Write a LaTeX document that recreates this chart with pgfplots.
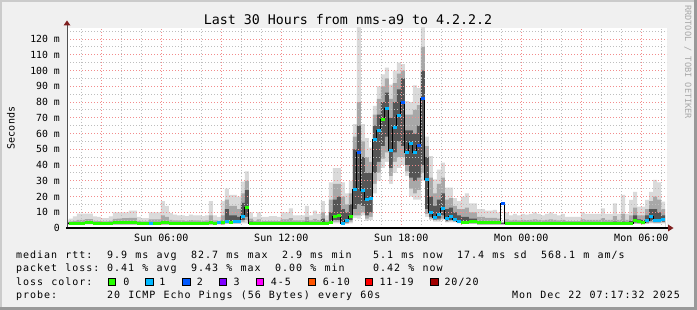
\documentclass[border=0pt]{standalone}
\usepackage{fontspec}
\setmainfont{DejaVu Sans Mono}
\newfontfamily\legfont[LetterSpace=9.8,WordSpace=1.163]{DejaVu Sans Mono}
\usepackage{pgfplots}
\pgfplotsset{compat=1.18}
\usepackage{pgfplotstable}
\definecolor{bgcol}{HTML}{F0F0F0}
\definecolor{shadeA}{HTML}{CBCBCB}
\definecolor{shadeB}{HTML}{999999}
\definecolor{mgrid}{HTML}{F28C8C}
\definecolor{mingrid}{HTML}{BEBEBE}
\definecolor{arrowred}{HTML}{7F1F1F}
\definecolor{yaxcol}{HTML}{505050}
\definecolor{smokeL}{HTML}{DADADA}
\definecolor{smokeM}{HTML}{A8A8A8}
\definecolor{smokeD}{HTML}{555555}
\definecolor{lossA}{HTML}{26FF00}
\definecolor{lossB}{HTML}{00B8FF}
\definecolor{lossC}{HTML}{0059FF}
\definecolor{lossD}{HTML}{7E00FF}
\definecolor{lossE}{HTML}{FF00FF}
\definecolor{lossF}{HTML}{FF5500}
\definecolor{lossG}{HTML}{FF0000}
\definecolor{lossH}{HTML}{A10000}
\definecolor{rrdtxt}{HTML}{A8A8A8}

\pgfplotstableread{
x lo mlo dlo dhi mhi hi med loss
1.183 2.0 2.2 2.5 3.6 3.8 5.3 3.0 g
1.383 2.0 2.2 2.5 3.6 4.2 6.0 3.0 g
1.583 2.0 2.2 2.5 3.6 4.5 7.4 3.0 g
1.783 2.0 2.2 2.5 3.8 5.2 9.1 3.0 g
1.983 2.0 2.2 2.5 3.8 5.2 9.1 3.0 g
2.183 2.2 2.4 2.8 4.2 5.6 9.1 3.6 g
2.383 2.2 2.4 2.8 4.2 5.6 9.1 3.6 g
2.583 2.0 2.2 2.5 3.6 4.5 7.4 3.0 g
2.783 2.0 2.2 2.5 3.6 4.4 7.0 3.0 g
2.983 2.0 2.2 2.5 3.6 4.2 6.3 3.0 g
3.183 2.0 2.2 2.5 3.6 4.2 6.3 3.0 g
3.383 2.0 2.2 2.5 3.6 4.5 7.4 3.0 g
3.583 2.0 2.2 2.5 4.0 5.8 10.0 3.2 g
3.783 2.0 2.2 2.5 4.0 6.0 10.0 3.2 g
3.983 2.0 2.2 2.5 4.2 6.2 10.0 3.4 g
4.183 2.0 2.2 2.5 4.2 6.2 10.0 3.4 g
4.383 2.0 2.2 2.5 4.2 6.4 11.0 3.4 g
4.583 2.0 2.2 2.5 4.2 6.4 11.0 3.4 g
4.783 2.0 2.2 2.5 3.6 4.5 7.0 3.0 g
4.983 2.0 2.2 2.5 3.6 4.2 6.3 3.0 g
5.183 2.0 2.2 2.5 3.6 4.2 6.3 3.0 g
5.383 1.8 2.0 2.3 3.4 5.5 10.0 2.9 c
5.583 2.0 2.2 2.5 3.6 5.5 10.0 3.0 g
5.783 2.0 2.2 2.5 3.8 5.5 10.0 3.0 g
5.983 2.0 2.2 2.5 4.5 8.0 17.0 3.2 g
6.183 2.0 2.2 2.5 4.2 7.0 14.0 3.2 g
6.383 2.0 2.2 2.5 3.6 5.2 9.5 3.0 g
6.583 2.0 2.2 2.5 3.6 4.8 8.5 3.0 g
6.783 2.0 2.2 2.5 3.6 4.8 8.0 3.0 g
6.983 2.0 2.2 2.5 3.6 4.8 8.0 3.0 g
7.183 2.0 2.2 2.5 3.6 4.6 7.5 3.0 g
7.383 2.0 2.2 2.5 3.6 5.0 8.5 3.0 g
7.583 2.0 2.2 2.5 3.6 4.8 8.0 3.0 g
7.783 2.0 2.2 2.5 3.6 4.8 8.0 3.0 g
7.983 2.0 2.2 2.5 3.6 4.6 7.5 3.0 g
8.183 2.0 2.2 2.5 3.6 4.8 8.0 3.0 g
8.383 2.0 2.2 2.5 4.0 8.0 17.0 3.2 g
8.583 2.0 2.2 2.5 3.6 4.8 8.0 3.0 g
8.783 2.2 2.4 2.8 3.8 4.6 7.0 3.4 c
8.983 2.0 2.2 2.5 4.5 8.0 17.0 3.2 g
9.183 2.5 3.0 3.5 12.0 18.0 25.0 4.0 c
9.383 2.5 3.0 3.3 8.0 14.0 21.0 3.6 g
9.583 2.5 3.0 3.3 8.0 14.0 21.0 4.0 c
9.783 2.5 3.0 3.3 7.0 12.0 20.0 4.0 c
9.983 3.0 4.0 5.0 16.0 22.0 29.4 7.6 c
10.183 3.0 5.0 7.0 24.0 30.0 36.0 12.7 g
10.383 2.0 2.2 2.5 4.0 6.0 10.0 3.0 g
10.583 2.0 2.2 2.5 3.6 4.4 7.0 3.0 g
10.783 2.0 2.2 2.5 3.8 5.5 10.0 3.0 g
10.983 2.0 2.2 2.5 3.6 4.4 7.0 3.0 g
11.183 2.0 2.2 2.5 3.6 4.4 7.0 3.0 g
11.383 2.0 2.2 2.5 3.6 4.6 7.5 3.0 g
11.583 2.0 2.2 2.5 3.6 4.6 7.5 3.0 g
11.783 2.0 2.2 2.5 3.6 4.4 7.0 3.0 g
11.983 2.0 2.2 2.5 3.6 5.5 10.0 3.0 g
12.183 2.0 2.2 2.5 3.6 5.5 10.0 3.0 g
12.383 2.0 2.2 2.5 3.8 6.2 12.5 3.0 g
12.583 2.0 2.2 2.5 3.6 4.8 8.0 3.0 g
12.783 2.0 2.2 2.5 3.6 4.8 8.0 3.0 g
12.983 2.0 2.2 2.5 3.6 4.8 8.0 3.0 g
13.183 2.0 2.2 2.5 4.0 7.0 14.0 3.0 g
13.383 2.0 2.2 2.5 3.6 4.8 8.0 3.0 g
13.583 2.0 2.2 2.5 3.8 5.8 11.0 3.0 g
13.783 2.0 2.2 2.5 3.6 5.0 9.0 3.0 g
13.983 2.0 2.3 2.5 6.0 10.0 17.0 3.0 g
14.183 2.0 2.2 2.5 3.6 4.8 8.0 3.0 g
14.383 2.5 3.0 3.2 10.0 18.0 29.0 3.4 g
14.583 3.0 4.0 5.0 18.0 28.0 38.0 7.6 g
14.783 3.0 4.0 5.0 20.0 28.0 38.0 8.0 g
14.983 2.0 2.5 3.0 12.0 20.0 29.0 3.0 c
15.183 2.5 3.0 3.5 10.0 15.0 22.0 5.0 c
15.383 3.0 4.0 5.0 15.0 22.0 30.0 7.6 g
15.583 6.5 8.0 12.0 50.0 58.0 66.0 24.5 c
15.783 6.0 8.0 15.0 65.0 80.0 130.0 47.8 b
15.983 8.0 10.0 14.0 45.0 55.0 66.0 24.0 c
16.183 4.5 6.0 8.0 35.0 45.0 57.0 17.8 c
16.383 5.0 7.0 10.0 35.0 42.0 51.0 18.6 c
16.583 22.0 28.0 35.0 65.0 72.0 77.5 56.0 c
16.783 30.0 35.0 42.0 72.0 82.0 90.0 61.6 c
16.983 38.0 44.0 52.0 80.0 90.0 97.6 68.6 g
17.183 42.0 48.0 58.0 86.0 95.0 101.8 75.8 c
17.383 28.0 33.0 38.0 70.0 82.0 91.0 49.5 c
17.583 35.0 42.0 48.0 80.0 92.0 100.0 64.0 c
17.783 38.0 45.0 55.0 88.0 98.0 105.0 71.7 c
17.983 40.0 45.0 52.0 95.0 100.0 104.0 79.6 b
18.183 33.0 36.0 40.0 62.0 72.0 80.6 48.0 c
18.383 20.0 25.0 32.0 62.0 72.0 80.0 53.5 c
18.583 18.0 22.0 30.0 60.0 75.0 90.5 48.0 c
18.783 18.0 24.0 32.0 65.0 78.0 89.0 52.7 b
18.983 30.0 35.0 40.0 100.0 115.0 130.0 82.0 b
19.183 7.0 9.0 12.0 45.0 52.0 58.0 30.9 c
19.383 5.0 6.0 7.0 20.0 32.0 45.7 9.7 c
19.583 4.0 5.0 5.5 14.0 22.0 30.9 6.6 c
19.783 4.0 5.0 6.0 18.0 28.0 37.0 8.7 c
19.983 5.0 6.0 8.0 22.0 32.0 41.5 12.3 c
20.183 3.5 4.0 4.5 12.0 18.0 25.6 6.0 c
20.383 3.5 4.5 5.0 13.0 19.0 25.6 7.0 c
20.583 3.5 4.0 4.5 10.0 14.0 19.0 5.7 c
20.783 3.0 3.2 3.5 8.0 12.0 17.0 4.0 c
20.983 2.5 2.8 3.0 7.0 12.0 20.0 3.4 g
21.183 2.5 2.8 3.0 7.0 13.0 22.0 3.4 g
21.383 2.5 2.8 3.2 6.0 10.0 15.7 4.0 g
21.583 2.5 2.8 3.2 6.0 10.0 15.7 4.0 g
21.783 2.0 2.2 2.5 4.5 7.0 12.0 3.2 g
21.983 2.0 2.2 2.5 4.5 7.0 12.0 3.2 g
22.183 2.0 2.2 2.5 4.2 6.5 11.0 3.2 g
22.383 2.0 2.2 2.5 4.2 6.5 11.0 3.2 g
22.583 2.0 2.2 2.5 4.2 6.5 11.5 3.2 g
22.783 2.0 2.2 2.5 4.2 6.0 10.0 3.2 g
22.983 2.0 2.2 2.5 3.2 3.6 4.0 15.7 b
23.183 2.0 2.2 2.5 3.6 5.5 10.0 3.0 g
23.383 2.0 2.2 2.5 3.6 4.8 8.0 3.0 g
23.583 2.0 2.2 2.5 3.6 5.1 9.0 3.0 g
23.783 2.0 2.2 2.5 3.6 4.8 8.0 3.0 g
23.983 2.0 2.2 2.5 3.6 5.1 9.0 3.0 g
24.183 2.0 2.2 2.5 3.6 5.0 8.5 3.0 g
24.383 2.0 2.2 2.5 3.6 5.1 9.0 3.0 g
24.583 2.0 2.2 2.5 3.6 5.5 10.0 3.0 g
24.783 2.0 2.2 2.5 3.6 5.1 9.0 3.0 g
24.983 2.0 2.2 2.5 3.6 4.8 8.0 3.0 g
25.183 2.0 2.2 2.5 3.6 5.1 9.0 3.0 g
25.383 2.0 2.2 2.5 3.6 5.5 10.0 3.0 g
25.583 2.0 2.2 2.5 3.6 5.1 9.0 3.0 g
25.783 2.0 2.2 2.5 3.6 4.8 8.0 3.0 g
25.983 2.0 2.2 2.5 3.6 5.1 9.0 3.0 g
26.183 2.0 2.2 2.5 3.6 4.4 7.0 3.0 g
26.383 2.0 2.2 2.5 3.6 4.4 7.0 3.0 g
26.583 2.0 2.2 2.5 3.6 4.4 7.0 3.0 g
26.783 2.0 2.2 2.5 3.6 4.4 7.0 3.0 g
26.983 2.0 2.2 2.5 3.6 5.5 10.0 3.0 g
27.183 2.0 2.2 2.5 3.6 5.1 9.0 3.0 g
27.383 2.0 2.2 2.5 3.6 5.1 9.0 3.0 g
27.583 2.0 2.2 2.5 3.6 5.1 9.0 3.0 g
27.783 2.0 2.2 2.5 3.6 5.1 9.0 3.0 g
27.983 2.0 2.2 2.5 3.8 6.3 12.5 3.0 g
28.183 2.0 2.2 2.5 3.6 5.1 9.0 3.0 g
28.383 2.0 2.2 2.5 3.6 5.1 9.0 3.0 g
28.583 2.0 2.2 2.5 4.0 7.5 15.7 3.0 g
28.783 2.0 2.2 2.5 3.6 5.1 9.0 3.0 g
28.983 1.8 2.0 2.2 4.0 9.0 21.0 2.6 g
29.183 2.0 2.2 2.5 3.6 5.1 9.0 3.0 g
29.383 2.0 2.2 2.5 4.5 8.0 17.8 3.0 g
29.583 2.5 3.0 3.5 8.0 13.0 23.0 4.7 g
29.783 2.5 2.8 3.2 5.5 8.0 13.6 4.0 g
29.983 2.2 2.5 2.8 5.0 8.0 13.6 3.5 g
30.183 2.5 3.0 3.5 8.0 12.0 17.8 5.0 c
30.383 3.0 3.5 4.5 12.0 17.0 23.0 7.6 c
30.583 2.8 3.2 3.8 12.0 20.0 30.5 5.0 c
30.783 2.8 3.2 3.8 10.0 18.0 29.0 4.6 c
30.983 3.0 3.5 4.0 8.0 12.0 16.7 5.5 c
31.183 3.0 3.5 4.0 8.0 12.0 16.7 5.5 c
}\data

\newcommand{\legtxt}[3]{\node[anchor=base west, inner sep=0pt, font=\legfont\fontsize{10bp}{12bp}\selectfont] at (#1,#2) {#3};}
\newcommand{\legbox}[2]{\filldraw[fill=#2, draw=black, line width=1bp] (#1,24.5) rectangle ++(7.4,7.4);}

\pgfplotsset{rrdframe/.style={
  at={(67bp,82bp)}, anchor=south west,
  scale only axis, width=600bp, height=200bp,
  xmin=1.2833, xmax=31.2833, ymin=0, ymax=127}}

\begin{document}
\begin{tikzpicture}
\begin{scope}[x=1bp,y=1bp]
\fill[bgcol] (0,0) rectangle (697,310);
\fill[shadeA] (0,0) rectangle (2,310);
\fill[shadeA] (0,308) rectangle (697,310);
\fill[shadeB] (694,0) rectangle (697,310);
\fill[shadeB] (0,0) rectangle (697,3);
\end{scope}

% smoke (ping spread) with grid drawn over it
\begin{axis}[
  rrdframe,
  axis background/.style={fill=white},
  axis line style={draw=none},
  axis on top,
  xtick={3,6,...,30},
  xticklabels={{},Sun 06:00,{},Sun 12:00,{},Sun 18:00,{},Mon 00:00,{},Mon 06:00},
  minor xtick={2,4,5,7,8,10,11,13,14,16,17,19,20,22,23,25,26,28,29,31},
  ytick={0,10,...,120},
  yticklabels={0,10 m,20 m,30 m,40 m,50 m,60 m,70 m,80 m,90 m,100 m,110 m,120 m},
  minor ytick={5,15,...,125},
  grid=both,
  major grid style={draw=mgrid, line width=0.9bp, dash pattern=on 1bp off 2bp},
  minor grid style={draw=mingrid, line width=0.9bp, dash pattern=on 1bp off 2bp},
  major tick length=0pt, minor tick length=0pt,
  tick style={draw=none},
  xticklabel style={font=\fontsize{10bp}{12bp}\selectfont, inner sep=0pt, anchor=north, yshift=-6bp},
  yticklabel style={font=\fontsize{9.8bp}{11bp}\selectfont, inner sep=0pt, anchor=east, xshift=-7bp},
]
\addplot[const plot, draw=none, fill=smokeL] table[x=x,y=hi]{\data} \closedcycle;
\addplot[const plot, draw=none, fill=smokeM] table[x=x,y=mhi]{\data} \closedcycle;
\addplot[const plot, draw=none, fill=smokeD] table[x=x,y=dhi]{\data} \closedcycle;
\addplot[const plot, draw=none, fill=smokeM] table[x=x,y=dlo]{\data} \closedcycle;
\addplot[const plot, draw=none, fill=smokeL] table[x=x,y=mlo]{\data} \closedcycle;
\addplot[const plot, draw=none, fill=white] table[x=x,y=lo]{\data} \closedcycle;
\end{axis}

% median line coloured by loss, drawn over the grid
\begin{axis}[rrdframe, hide axis]
\addplot[const plot, draw=black, solid, line width=1bp] table[x=x,y=med]{\data};
\addplot[scatter, only marks, point meta=explicit symbolic,
  scatter/classes={g={mark=-,draw=lossA},c={mark=-,draw=lossB},b={mark=-,draw=lossC}},
  mark size=2bp, every mark/.append style={line width=3bp, solid},
  skip coords between index={150}{151}]
  table[x expr=\thisrow{x}+0.1, y=med, meta=loss]{\data};
\end{axis}

\begin{scope}[x=1bp,y=1bp]
\draw[yaxcol, line width=1bp] (67,82) -- (67,285);
\fill[arrowred] (63.5,284.5) -- (70.5,284.5) -- (67,289.5) -- cycle;
\draw[black, line width=1.6bp] (66,82) -- (668,82);
\fill[arrowred] (668,78.5) -- (668,85.5) -- (673.5,82) -- cycle;

\node[anchor=base, inner sep=0pt, font=\fontsize{13.3bp}{15bp}\selectfont] at (348,286) {Last 30 Hours from nms-a9 to 4.2.2.2};
\node[rotate=90, inner sep=0pt, font=\fontsize{10bp}{12bp}\selectfont] at (11,182) {Seconds};
\node[rotate=-90, anchor=west, inner sep=0pt, text=rrdtxt, font=\fontsize{8.6bp}{10bp}\selectfont] at (688,305) {RRDTOOL / TOBI OETIKER};

\legtxt{16}{51.7}{median rtt:}
\legtxt{107}{51.7}{9.9 ms avg}
\legtxt{191}{51.7}{82.7 ms max}
\legtxt{282}{51.7}{2.9 ms min}
\legtxt{373}{51.7}{5.1 ms now}
\legtxt{457}{51.7}{17.4 ms sd}
\legtxt{541}{51.7}{568.1 m am/s}

\legtxt{16}{38.3}{packet loss:}
\legtxt{107}{38.3}{0.41 \% avg}
\legtxt{191}{38.3}{9.43 \% max}
\legtxt{275}{38.3}{0.00 \% min}
\legtxt{373}{38.3}{0.42 \% now}

\legtxt{16}{24.5}{loss color:}
\legbox{108.3}{lossA}\legtxt{123.3}{24.5}{0}
\legbox{145.7}{lossB}\legtxt{159.3}{24.5}{1}
\legbox{182.7}{lossC}\legtxt{196.7}{24.5}{2}
\legbox{219.3}{lossD}\legtxt{233.3}{24.5}{3}
\legbox{256}{lossE}\legtxt{270.7}{24.5}{4-5}
\legbox{308.3}{lossF}\legtxt{322.7}{24.5}{6-10}
\legbox{365}{lossG}\legtxt{379.3}{24.5}{11-19}
\legbox{430.7}{lossH}\legtxt{444.3}{24.5}{20/20}

\legtxt{16}{11.3}{probe:}
\legtxt{107}{11.3}{20 ICMP Echo Pings (56 Bytes) every 60s}
\node[anchor=base east, inner sep=0pt, font=\legfont\fontsize{10bp}{12bp}\selectfont] at (680,11.3) {Mon Dec 22 07:17:32 2025};
\end{scope}
\pgfresetboundingbox
\useasboundingbox (0,0) rectangle (697bp,310bp);
\end{tikzpicture}
\end{document}
